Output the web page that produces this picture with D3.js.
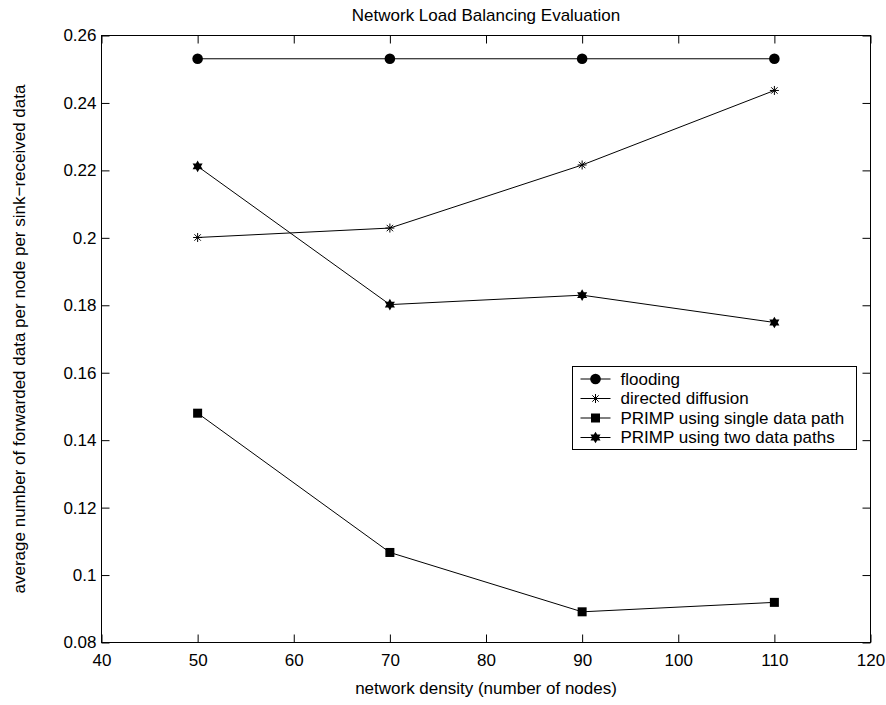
<!DOCTYPE html>
<html>
<head>
<meta charset="utf-8">
<script src="https://cdn.jsdelivr.net/npm/d3@7"></script>
<style>
  html, body { margin: 0; padding: 0; background: #fff; }
  svg { display: block; }
  text { font-family: "Liberation Sans", Arial, Helvetica, sans-serif; fill: #000; }
</style>
</head>
<body>
<svg id="chart" width="886" height="705"></svg>
<script>
// ---- data ----
const nodes = [50, 70, 90, 110];
const flooding = [0.2531, 0.2531, 0.2531, 0.2531];
const directedDiffusion = [0.2001, 0.2029, 0.2216, 0.2437];
const singlePath = [0.1480, 0.1067, 0.0891, 0.0919];
const twoPaths = [0.2212, 0.1802, 0.1830, 0.1749];

const seriesNames = ["flooding", "directed diffusion", "PRIMP using single data path", "PRIMP using two data paths"];
const seriesMarkers = ["circle", "asterisk", "square", "hexagram"];

const xTickValues = [40, 50, 60, 70, 80, 90, 100, 110, 120];
const xTickLabels = ["40", "50", "60", "70", "80", "90", "100", "110", "120"];
const yTickValues = [0.08, 0.10, 0.12, 0.14, 0.16, 0.18, 0.20, 0.22, 0.24, 0.26];
const yTickLabels = ["0.08", "0.1", "0.12", "0.14", "0.16", "0.18", "0.2", "0.22", "0.24", "0.26"];

const titleText = "Network Load Balancing Evaluation";
const xLabelText = "network density (number of nodes)";
const yLabelText = "average number of forwarded data per node per sink\u2212received data";

// ---- layout ----
const svg = d3.select("#chart");
const FS = 17;
const pLeft = 101.5, pRight = 870.5, pTop = 35.5, pBottom = 642.5;

const x = d3.scaleLinear().domain([40, 120]).range([pLeft, pRight]);
const y = d3.scaleLinear().domain([0.08, 0.26]).range([pBottom, pTop]);

const tickLen = 8;

// axes (ticks inward, on all four sides)
const axB = d3.axisBottom(x).tickValues(xTickValues).tickFormat((d, i) => xTickLabels[i]).tickSizeInner(-tickLen).tickSizeOuter(0).tickPadding(11);
const axT = d3.axisTop(x).tickValues(xTickValues).tickFormat("").tickSizeInner(-tickLen).tickSizeOuter(0);
const axL = d3.axisLeft(y).tickValues(yTickValues).tickFormat((d, i) => yTickLabels[i]).tickSizeInner(-tickLen).tickSizeOuter(0).tickPadding(5);
const axR = d3.axisRight(y).tickValues(yTickValues).tickFormat("").tickSizeInner(-tickLen).tickSizeOuter(0);

function styleAxis(g) {
  g.select(".domain").remove();
  g.selectAll(".tick line").attr("stroke", "#000").attr("stroke-width", 1);
  g.selectAll(".tick text").style("font-size", FS + "px").style("font-family", '"Liberation Sans", Arial, sans-serif').attr("fill", "#000");
}

svg.append("g").attr("transform", `translate(0,${pBottom})`).call(axB).call(styleAxis)
  .selectAll(".tick text").attr("dy", "0.71em");
svg.append("g").attr("transform", `translate(0,${pTop})`).call(axT).call(styleAxis);
svg.append("g").attr("transform", `translate(${pLeft},0)`).call(axL).call(styleAxis);
svg.append("g").attr("transform", `translate(${pRight},0)`).call(axR).call(styleAxis);

// box
svg.append("rect").attr("x", pLeft).attr("y", pTop).attr("width", pRight - pLeft).attr("height", pBottom - pTop)
  .attr("fill", "none").attr("stroke", "#000").attr("stroke-width", 1);

// titles
svg.append("text").attr("x", (pLeft + pRight) / 2).attr("y", 21).attr("text-anchor", "middle")
  .style("font-size", FS + "px").text(titleText);
svg.append("text").attr("x", (pLeft + pRight) / 2).attr("y", 694).attr("text-anchor", "middle")
  .style("font-size", FS + "px").text(xLabelText);
svg.append("text").attr("transform", `translate(25,${(pTop + pBottom) / 2}) rotate(-90)`).attr("text-anchor", "middle")
  .style("font-size", FS + "px").text(yLabelText);

// marker drawing
function hexPath(R) {
  const r = R / Math.sqrt(3);
  const pts = [];
  for (let k = 0; k < 12; k++) {
    const a = -Math.PI / 2 + k * Math.PI / 6;
    const rad = k % 2 === 0 ? R : r;
    pts.push([rad * Math.cos(a), rad * Math.sin(a)]);
  }
  return "M" + pts.map(p => p[0].toFixed(2) + "," + p[1].toFixed(2)).join("L") + "Z";
}
function drawMarker(g, type, cx, cy) {
  if (type === "circle") {
    g.append("circle").attr("cx", cx).attr("cy", cy).attr("r", 5.3).attr("fill", "#000");
  } else if (type === "square") {
    g.append("rect").attr("x", cx - 4.5).attr("y", cy - 4.5).attr("width", 9).attr("height", 9).attr("fill", "#000");
  } else if (type === "asterisk") {
    const s = 4.5, d = 3.2;
    const p = `M${cx - s},${cy}L${cx + s},${cy}M${cx},${cy - s}L${cx},${cy + s}` +
              `M${cx - d},${cy - d}L${cx + d},${cy + d}M${cx - d},${cy + d}L${cx + d},${cy - d}`;
    g.append("path").attr("d", p).attr("stroke", "#000").attr("stroke-width", 1).attr("fill", "none");
  } else if (type === "hexagram") {
    g.append("path").attr("d", hexPath(5.8)).attr("transform", `translate(${cx},${cy})`).attr("fill", "#000");
  }
}

// series
const allSeries = [flooding, directedDiffusion, singlePath, twoPaths];
const line = d3.line().x((d, i) => x(nodes[i])).y(d => y(d));
const plotG = svg.append("g");
allSeries.forEach((vals, si) => {
  plotG.append("path").attr("d", line(vals)).attr("fill", "none").attr("stroke", "#000").attr("stroke-width", 1);
  vals.forEach((v, i) => drawMarker(plotG, seriesMarkers[si], x(nodes[i]), y(v)));
});

// legend
const lg = svg.append("g");
const lx0 = 572.5, ly0 = 366.5, lw = 284, lh = 83;
lg.append("rect").attr("x", lx0).attr("y", ly0).attr("width", lw).attr("height", lh)
  .attr("fill", "#fff").attr("stroke", "#000").attr("stroke-width", 1);
seriesNames.forEach((name, i) => {
  const cy = ly0 + 12.5 + i * 19.5;
  lg.append("line").attr("x1", lx0 + 8).attr("x2", lx0 + 38).attr("y1", cy).attr("y2", cy)
    .attr("stroke", "#000").attr("stroke-width", 1);
  drawMarker(lg, seriesMarkers[i], lx0 + 23, cy);
  lg.append("text").attr("x", lx0 + 48).attr("y", cy).attr("dy", "0.35em")
    .style("font-size", FS + "px").text(name);
});
</script>
</body>
</html>
